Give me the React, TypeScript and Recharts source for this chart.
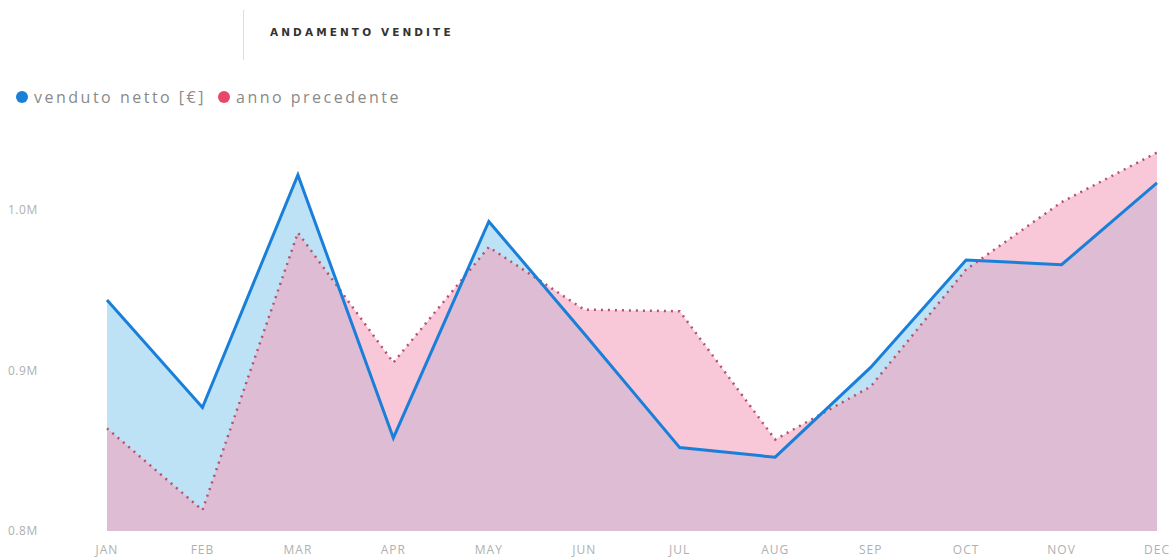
import React from "react";
import {
  ComposedChart,
  Area,
  Line,
  XAxis,
  YAxis,
} from "recharts";

const months = ["JAN", "FEB", "MAR", "APR", "MAY", "JUN", "JUL", "AUG", "SEP", "OCT", "NOV", "DEC"];
const venduto = [944000, 877000, 1022000, 858000, 993000, 923000, 852000, 846000, 902000, 969000, 966000, 1017000];
const precedente = [864000, 813000, 986000, 905000, 977000, 938000, 937000, 857000, 890000, 963000, 1005000, 1036000];
const yTicks = [800000, 900000, 1000000];

const data = months.map((m, i) => ({
  month: m,
  venduto: venduto[i],
  precedente: precedente[i],
}));

const BLUE = "#1a7fd8";
const PINK = "#e8476a";
const FONT = "'Open Sans', 'DejaVu Sans', sans-serif";

function YTick(props: any) {
  const { y, payload } = props;
  return (
    <text x={8} y={y} dy={4} fill="#b0b0b0" fontSize={12} letterSpacing={0.5} fontFamily={FONT} textAnchor="start">
      {(payload.value / 1e6).toFixed(1) + "M"}
    </text>
  );
}

export default function App() {
  return (
    <div style={{ position: "absolute", left: 0, top: 0, width: 1173, height: 559, background: "#fff" }}>
      <div style={{ position: "absolute", left: 243, top: 10, width: 1, height: 50, background: "#ddd" }} />
      <div
        style={{
          position: "absolute",
          left: 270,
          top: 26,
          fontFamily: "'DejaVu Sans', sans-serif",
          fontSize: 10.5,
          fontWeight: 600,
          letterSpacing: 3.1,
          color: "#333",
        }}
      >
        ANDAMENTO VENDITE
      </div>
      <div
        style={{
          position: "absolute",
          left: 16,
          top: 86,
          fontFamily: FONT,
          fontSize: 16,
          letterSpacing: 2.5,
          color: "#8a8a8a",
          display: "flex",
          alignItems: "center",
        }}
      >
        <span style={{ width: 12, height: 12, borderRadius: 6, background: BLUE, marginRight: 6 }} />
        <span style={{ marginRight: 12 }}>venduto netto [€]</span>
        <span style={{ width: 12, height: 12, borderRadius: 6, background: PINK, marginRight: 6 }} />
        <span>anno precedente</span>
      </div>
      <ComposedChart
        width={1173}
        height={559}
        data={data}
        margin={{ top: 130, right: 16, bottom: 0, left: 0 }}
        style={{ position: "absolute", left: 0, top: 0 }}
      >
        <XAxis
          dataKey="month"
          scale="point"
          padding={{ left: 0, right: 0 }}
          axisLine={false}
          tickLine={false}
          height={28}
          tickMargin={8}
          tick={{ fill: "#b0b0b0", fontSize: 12, fontFamily: FONT, letterSpacing: 1 }}
          interval={0}
        />
        <YAxis
          domain={[800000, 1050000]}
          ticks={yTicks}
          width={107}
          axisLine={false}
          tickLine={false}
          tick={<YTick />}
          allowDataOverflow
        />
        <Area
          dataKey="venduto"
          type="linear"
          stroke="none"
          fill="#bde2f6"
          fillOpacity={1}
          isAnimationActive={false}
        />
        <Area
          dataKey="precedente"
          type="linear"
          stroke="none"
          fill="#f3a3be"
          fillOpacity={0.6}
          isAnimationActive={false}
        />
        <Line
          dataKey="precedente"
          type="linear"
          stroke="#b8506c"
          strokeWidth={2.5}
          strokeDasharray="2 5"
          dot={false}
          isAnimationActive={false}
        />
        <Line
          dataKey="venduto"
          type="linear"
          stroke={BLUE}
          strokeWidth={3}
          dot={false}
          isAnimationActive={false}
        />
      </ComposedChart>
    </div>
  );
}
